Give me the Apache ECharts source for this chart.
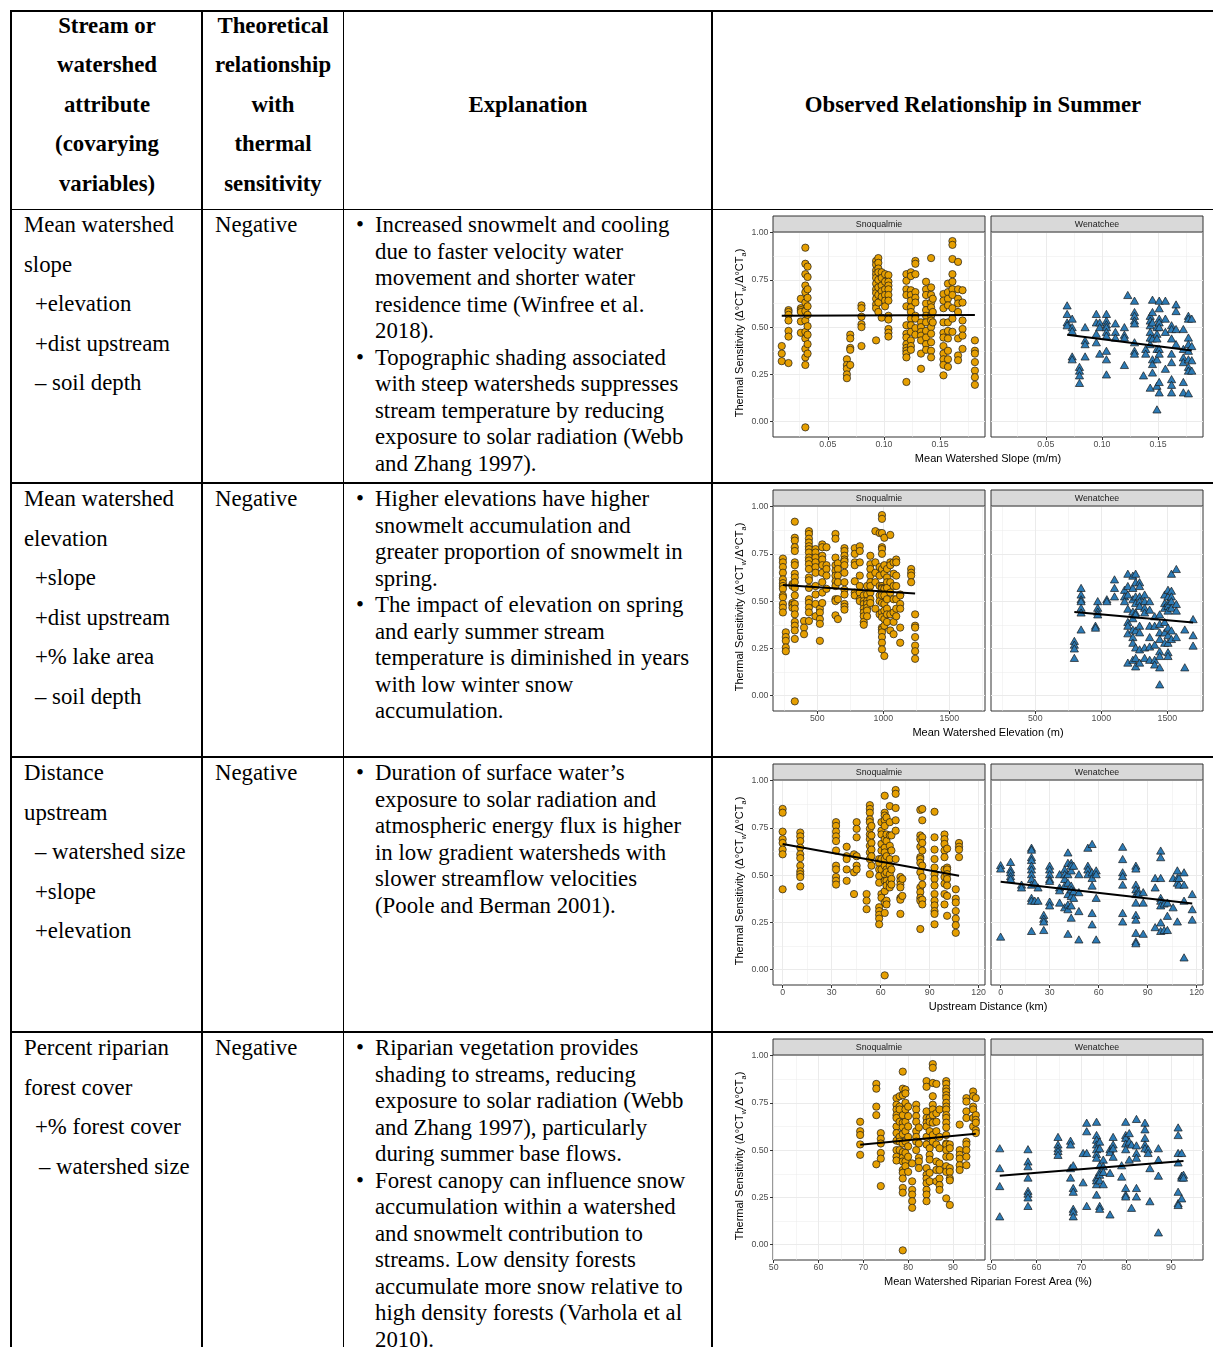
<!DOCTYPE html>
<html>
<head>
<meta charset="utf-8">
<title>Thermal sensitivity and watershed attributes</title>
<script src="https://cdn.jsdelivr.net/npm/echarts@6.0.0/dist/echarts.min.js"></script>
<style>
  html, body { margin: 0; padding: 0; background: #fff; }
  body {
    width: 1213px; height: 1347px; position: relative; overflow: hidden;
    font-family: 'Liberation Serif', 'Times New Roman', serif;
    font-size: 22.8px; color: #000;
  }
  .hl { position: absolute; height: 1.6px; background: #000; }
  .vl { position: absolute; width: 1.6px; background: #000; }
  .cell { position: absolute; white-space: nowrap; line-height: 26.5px; }
  .hd { font-weight: bold; text-align: center; }
  .hd > div { height: 39.5px; }
  .attr > div { height: 39.6px; }
  .attr .ind { padding-left: 11px; }
  .attr .ind2 { padding-left: 15px; }
  .expl { left: 375px; }
  .expl .b { position: relative; }
  .expl .b::before { content: '\2022'; position: absolute; left: -19px; }
  .chart { position: absolute; left: 713px; width: 500px; height: 273px; }
</style>
</head>
<body>

<!-- table rules -->
<div class="hl" style="left:11px;width:1202px;top:10.2px"></div>
<div class="hl" style="left:11px;width:1202px;top:208.6px"></div>
<div class="hl" style="left:11px;width:1202px;top:482.4px"></div>
<div class="hl" style="left:11px;width:1202px;top:756.4px"></div>
<div class="hl" style="left:11px;width:1202px;top:1031.4px"></div>
<div class="vl" style="left:10.4px;top:10.2px;height:1337px"></div>
<div class="vl" style="left:201.2px;top:10.2px;height:1337px"></div>
<div class="vl" style="left:342.8px;top:10.2px;height:1337px"></div>
<div class="vl" style="left:711.2px;top:10.2px;height:1337px"></div>

<!-- header -->
<div class="cell hd" style="left:12px;width:190px;top:12.75px">
  <div>Stream or</div><div>watershed</div><div>attribute</div><div>(covarying</div><div>variables)</div>
</div>
<div class="cell hd" style="left:202px;width:142px;top:12.75px">
  <div>Theoretical</div><div>relationship</div><div>with</div><div>thermal</div><div>sensitivity</div>
</div>
<div class="cell hd" style="left:344px;width:368px;top:91.75px">Explanation</div>
<div class="cell hd" style="left:712px;width:522px;top:91.75px">Observed Relationship in Summer</div>

<!-- row 1 -->
<div class="cell attr" style="left:24px;top:212px">
  <div>Mean watershed</div><div>slope</div><div class="ind">+elevation</div><div class="ind">+dist upstream</div><div class="ind">– soil depth</div>
</div>
<div class="cell" style="left:215px;top:212px">Negative</div>
<div class="cell expl" style="top:212px">
  <div class="b">Increased snowmelt and cooling</div>
  <div>due to faster velocity water</div>
  <div>movement and shorter water</div>
  <div>residence time (Winfree et al.</div>
  <div>2018).</div>
  <div class="b">Topographic shading associated</div>
  <div>with steep watersheds suppresses</div>
  <div>stream temperature by reducing</div>
  <div>exposure to solar radiation (Webb</div>
  <div>and Zhang 1997).</div>
</div>

<!-- row 2 -->
<div class="cell attr" style="left:24px;top:486px">
  <div>Mean watershed</div><div>elevation</div><div class="ind">+slope</div><div class="ind">+dist upstream</div><div class="ind">+% lake area</div><div class="ind">– soil depth</div>
</div>
<div class="cell" style="left:215px;top:486px">Negative</div>
<div class="cell expl" style="top:486px">
  <div class="b">Higher elevations have higher</div>
  <div>snowmelt accumulation and</div>
  <div>greater proportion of snowmelt in</div>
  <div>spring.</div>
  <div class="b">The impact of elevation on spring</div>
  <div>and early summer stream</div>
  <div>temperature is diminished in years</div>
  <div>with low winter snow</div>
  <div>accumulation.</div>
</div>

<!-- row 3 -->
<div class="cell attr" style="left:24px;top:760px">
  <div>Distance</div><div>upstream</div><div class="ind">– watershed size</div><div class="ind">+slope</div><div class="ind">+elevation</div>
</div>
<div class="cell" style="left:215px;top:760px">Negative</div>
<div class="cell expl" style="top:760px">
  <div class="b">Duration of surface water’s</div>
  <div>exposure to solar radiation and</div>
  <div>atmospheric energy flux is higher</div>
  <div>in low gradient watersheds with</div>
  <div>slower streamflow velocities</div>
  <div>(Poole and Berman 2001).</div>
</div>

<!-- row 4 -->
<div class="cell attr" style="left:24px;top:1035px">
  <div>Percent riparian</div><div>forest cover</div><div class="ind">+% forest cover</div><div class="ind2">– watershed size</div>
</div>
<div class="cell" style="left:215px;top:1035px">Negative</div>
<div class="cell expl" style="top:1035px">
  <div class="b">Riparian vegetation provides</div>
  <div>shading to streams, reducing</div>
  <div>exposure to solar radiation (Webb</div>
  <div>and Zhang 1997), particularly</div>
  <div>during summer base flows.</div>
  <div class="b">Forest canopy can influence snow</div>
  <div>accumulation within a watershed</div>
  <div>and snowmelt contribution to</div>
  <div>streams. Low density forests</div>
  <div>accumulate more snow relative to</div>
  <div>high density forests (Varhola et al</div>
  <div>2010).</div>
</div>

<div id="chartSlope" class="chart" style="top:210px"></div>
<div id="chartElev" class="chart" style="top:484px"></div>
<div id="chartDist" class="chart" style="top:758px"></div>
<div id="chartRip" class="chart" style="top:1033px"></div>

<script>
// Each site is one column: [attribute value, [thermal sensitivity for each summer]]
const basins = ['Snoqualmie', 'Wenatchee'];

// Mean watershed slope (m/m)
const slopeSno = [
  [0.009, [0.40, 0.36, 0.32]],
  [0.015, [0.59, 0.58, 0.565, 0.535, 0.48, 0.45, 0.31]],
  [0.026, [0.65, 0.60, 0.59, 0.58, 0.53, 0.47]],
  [0.030, [0.92, 0.835, 0.78, 0.72, 0.685, 0.63, 0.585, 0.535, 0.475, 0.44, 0.385, 0.34, 0.30, -0.03]],
  [0.032, [0.82, 0.765, 0.70, 0.655, 0.61, 0.565, 0.505, 0.46, 0.41, 0.36]],
  [0.067, [0.33, 0.30, 0.28, 0.25, 0.23]],
  [0.070, [0.46, 0.44, 0.39, 0.38, 0.30]],
  [0.080, [0.615, 0.60, 0.555, 0.515, 0.50, 0.40]],
  [0.093, [0.85, 0.83, 0.80, 0.78, 0.76, 0.73, 0.70, 0.68, 0.65, 0.62, 0.60, 0.43]],
  [0.095, [0.865, 0.84, 0.81, 0.79, 0.75, 0.71, 0.67, 0.63, 0.58]],
  [0.098, [0.79, 0.76, 0.72, 0.69, 0.66, 0.55]],
  [0.101, [0.78, 0.74, 0.70, 0.67, 0.64, 0.61]],
  [0.104, [0.775, 0.74, 0.72, 0.70, 0.67, 0.64, 0.56, 0.54, 0.49, 0.47, 0.45]],
  [0.120, [0.78, 0.745, 0.70, 0.67, 0.61, 0.51, 0.465, 0.445, 0.41, 0.39, 0.375, 0.36, 0.34, 0.21]],
  [0.124, [0.79, 0.77, 0.695, 0.67, 0.64, 0.605, 0.58, 0.545, 0.51, 0.475, 0.43, 0.40, 0.38]],
  [0.128, [0.85, 0.835, 0.78, 0.685, 0.655, 0.63, 0.56, 0.545, 0.495, 0.46]],
  [0.133, [0.525, 0.50, 0.475, 0.455, 0.43, 0.36, 0.28]],
  [0.1375, [0.74, 0.70, 0.67, 0.625, 0.59, 0.56, 0.525, 0.48, 0.445, 0.41, 0.38]],
  [0.142, [0.865, 0.71, 0.67, 0.63, 0.605, 0.56, 0.535, 0.50, 0.465, 0.42, 0.375, 0.34]],
  [0.1435, [0.65, 0.58, 0.525]],
  [0.153, [0.675, 0.64, 0.60, 0.525, 0.47, 0.445, 0.40, 0.36, 0.33, 0.30, 0.245]],
  [0.157, [0.73, 0.685, 0.65, 0.615, 0.525, 0.48, 0.44, 0.375, 0.33, 0.29]],
  [0.161, [0.955, 0.935, 0.86, 0.78, 0.74, 0.70, 0.67, 0.60, 0.545, 0.475]],
  [0.166, [0.845, 0.70, 0.65, 0.625, 0.58, 0.44, 0.35, 0.325]],
  [0.170, [0.695, 0.63, 0.535, 0.49, 0.455, 0.385]],
  [0.181, [0.43, 0.375, 0.36, 0.315, 0.27, 0.235, 0.195]]
];
const slopeWen = [
  [0.069, [0.615, 0.57, 0.525, 0.51]],
  [0.0735, [0.545, 0.50, 0.48, 0.345, 0.33]],
  [0.080, [0.29, 0.27, 0.245, 0.205]],
  [0.085, [0.50, 0.43, 0.41, 0.345]],
  [0.095, [0.57, 0.525, 0.465, 0.42]],
  [0.098, [0.525, 0.50, 0.36]],
  [0.104, [0.57, 0.535, 0.515, 0.50, 0.475, 0.455, 0.375, 0.33, 0.25]],
  [0.112, [0.52, 0.475, 0.445]],
  [0.120, [0.50, 0.46, 0.445, 0.30]],
  [0.123, [0.67]],
  [0.129, [0.64, 0.58, 0.56, 0.535, 0.52, 0.42, 0.375, 0.36]],
  [0.137, [0.245]],
  [0.139, [0.385, 0.36]],
  [0.143, [0.56, 0.535, 0.51, 0.475, 0.445, 0.41, 0.18]],
  [0.145, [0.645, 0.58, 0.525, 0.44, 0.33, 0.305, 0.26]],
  [0.149, [0.50, 0.465, 0.44, 0.385, 0.33, 0.19, 0.065]],
  [0.151, [0.64, 0.60, 0.545, 0.525, 0.50, 0.385, 0.36, 0.21, 0.155]],
  [0.1565, [0.64, 0.545, 0.475, 0.28]],
  [0.162, [0.51, 0.49, 0.44, 0.36, 0.315, 0.225, 0.195, 0.155]],
  [0.166, [0.62, 0.585, 0.49, 0.41]],
  [0.1725, [0.49, 0.385, 0.34, 0.315, 0.21, 0.155]],
  [0.177, [0.56, 0.545, 0.445, 0.41, 0.375, 0.33, 0.29, 0.27, 0.15]],
  [0.180, [0.545, 0.40, 0.325, 0.27]]
];
const slopeFitSno = [[0.009, 0.560], [0.181, 0.564]];
const slopeFitWen = [[0.069, 0.460], [0.180, 0.376]];

// Mean watershed elevation (m)
const elevSno = [
  [240, [0.725, 0.705, 0.68, 0.65, 0.615, 0.595, 0.58, 0.565, 0.53, 0.52, 0.485, 0.465, 0.44]],
  [262, [0.335, 0.31, 0.29, 0.255, 0.235]],
  [312, [0.59, 0.58, 0.49, 0.48, 0.465]],
  [330, [0.92, 0.835, 0.82, 0.785, 0.765, 0.705, 0.69, 0.645, 0.625, 0.60, 0.57, 0.53, 0.485, 0.46, 0.43, 0.39, 0.37, 0.345, 0.30, -0.03]],
  [400, [0.395, 0.36, 0.325]],
  [437, [0.87, 0.855, 0.83, 0.81, 0.79, 0.775, 0.757, 0.73, 0.715, 0.695, 0.67, 0.625, 0.61, 0.57, 0.51, 0.49, 0.465, 0.44, 0.395]],
  [487, [0.775, 0.757, 0.73, 0.705, 0.68, 0.65, 0.58, 0.535, 0.485, 0.42]],
  [520, [0.46, 0.44, 0.405, 0.38, 0.29]],
  [538, [0.80, 0.785, 0.74, 0.72, 0.69, 0.65, 0.60, 0.545, 0.49]],
  [570, [0.785, 0.69, 0.67, 0.635, 0.565]],
  [638, [0.855, 0.83, 0.73, 0.69, 0.66, 0.635, 0.605, 0.58, 0.51, 0.50, 0.425]],
  [656, [0.70, 0.67, 0.635, 0.60, 0.51, 0.405]],
  [706, [0.78, 0.765, 0.74, 0.72, 0.71, 0.69, 0.65, 0.60, 0.56, 0.535, 0.485, 0.47, 0.455]],
  [784, [0.78, 0.75, 0.705, 0.69, 0.605, 0.545, 0.53]],
  [822, [0.79, 0.765, 0.705, 0.635, 0.58, 0.545, 0.51, 0.50]],
  [852, [0.53, 0.50, 0.485, 0.46, 0.44, 0.42, 0.39, 0.375]],
  [877, [0.58, 0.535, 0.50, 0.485, 0.465, 0.45, 0.42]],
  [902, [0.74, 0.695, 0.67, 0.635, 0.60, 0.58, 0.545, 0.51, 0.49]],
  [940, [0.87, 0.705, 0.65, 0.60, 0.46]],
  [972, [0.86, 0.68, 0.635, 0.58, 0.53, 0.50, 0.43]],
  [990, [0.955, 0.935, 0.86, 0.785, 0.775, 0.75, 0.67, 0.58, 0.57, 0.565, 0.545, 0.53, 0.49, 0.44, 0.415, 0.36, 0.35, 0.335, 0.31, 0.28, 0.245]],
  [1008, [0.835, 0.69, 0.645, 0.565, 0.53, 0.485, 0.45, 0.405, 0.37, 0.21]],
  [1028, [0.67, 0.625, 0.60, 0.57, 0.51, 0.46, 0.43, 0.39]],
  [1053, [0.85, 0.705, 0.69, 0.60, 0.545, 0.43, 0.345]],
  [1078, [0.705, 0.645, 0.58, 0.51, 0.44, 0.39, 0.325]],
  [1098, [0.72, 0.705, 0.635, 0.58, 0.51, 0.46, 0.42]],
  [1128, [0.535, 0.53, 0.485, 0.46, 0.36, 0.28]],
  [1211, [0.67, 0.65, 0.635, 0.60]],
  [1241, [0.43, 0.37, 0.36, 0.31, 0.265, 0.235, 0.195]]
];
const elevWen = [
  [796, [0.29, 0.27, 0.25, 0.20]],
  [847, [0.57, 0.535, 0.51, 0.50, 0.465, 0.44, 0.35]],
  [956, [0.37, 0.36]],
  [973, [0.50, 0.465, 0.445, 0.43]],
  [1042, [0.51, 0.50]],
  [1100, [0.615, 0.57, 0.525]],
  [1176, [0.56, 0.525, 0.50]],
  [1201, [0.645, 0.58, 0.535, 0.46, 0.39, 0.37, 0.33, 0.175]],
  [1239, [0.635, 0.57, 0.51, 0.445, 0.41, 0.35, 0.31, 0.28, 0.19]],
  [1260, [0.645, 0.60, 0.525, 0.49, 0.44, 0.43, 0.345, 0.255, 0.20, 0.155]],
  [1290, [0.60, 0.58, 0.525, 0.50, 0.475, 0.37, 0.335, 0.245, 0.175]],
  [1328, [0.535, 0.50, 0.465, 0.44, 0.255, 0.20]],
  [1366, [0.50, 0.455, 0.37, 0.31, 0.26, 0.19]],
  [1404, [0.42, 0.37, 0.27, 0.19, 0.165]],
  [1442, [0.43, 0.38, 0.335, 0.30, 0.235, 0.21, 0.15, 0.06]],
  [1480, [0.535, 0.49, 0.465, 0.39, 0.335, 0.28]],
  [1505, [0.56, 0.525, 0.49, 0.475, 0.45, 0.36, 0.32, 0.28, 0.23, 0.21]],
  [1531, [0.645, 0.555, 0.525, 0.50, 0.465, 0.345, 0.30]],
  [1568, [0.67, 0.485, 0.45, 0.31]],
  [1632, [0.35, 0.15]],
  [1695, [0.405, 0.32, 0.265]]
];
const elevFitSno = [[240, 0.585], [1241, 0.540]];
const elevFitWen = [[796, 0.443], [1695, 0.387]];

// Upstream distance (km)
const distSno = [
  [0, [0.85, 0.83, 0.73, 0.69, 0.67, 0.635, 0.61, 0.425]],
  [10.8, [0.725, 0.705, 0.68, 0.645, 0.61, 0.59, 0.55, 0.52, 0.505, 0.49, 0.44]],
  [32.7, [0.78, 0.76, 0.73, 0.705, 0.68, 0.63, 0.55, 0.53, 0.49, 0.47, 0.45]],
  [39.2, [0.65, 0.60, 0.585, 0.53, 0.47]],
  [43.7, [0.61, 0.515, 0.40]],
  [45.3, [0.78, 0.745, 0.70, 0.60, 0.55, 0.53]],
  [51.4, [0.40, 0.365, 0.32]],
  [53.4, [0.87, 0.85, 0.83, 0.795, 0.78, 0.745, 0.715, 0.69, 0.655, 0.62, 0.585, 0.505]],
  [54.4, [0.76, 0.71, 0.67, 0.635, 0.60, 0.55]],
  [59.1, [0.585, 0.565, 0.53, 0.495, 0.46, 0.33, 0.31, 0.29, 0.27, 0.24]],
  [60.5, [0.78, 0.735, 0.715, 0.665, 0.63, 0.585, 0.53, 0.40, 0.38]],
  [62.5, [0.92, 0.83, 0.815, 0.79, 0.76, 0.69, 0.645, 0.62, 0.585, 0.55, 0.505, 0.47, 0.415, 0.355, 0.30, -0.03]],
  [63.6, [0.805, 0.715, 0.68, 0.60, 0.53, 0.515, 0.47, 0.445, 0.365, 0.345]],
  [65.6, [0.865, 0.78, 0.71, 0.655, 0.585, 0.55, 0.505, 0.46, 0.435]],
  [66.6, [0.71, 0.63, 0.53, 0.48, 0.45]],
  [69.2, [0.95, 0.93, 0.855, 0.79, 0.735, 0.585]],
  [72.1, [0.49, 0.47, 0.45, 0.435, 0.38, 0.37, 0.295]],
  [73.3, [0.48, 0.39]],
  [84.3, [0.845, 0.71, 0.69, 0.65, 0.595, 0.585, 0.565, 0.515, 0.435, 0.41, 0.38, 0.365, 0.215]],
  [85.5, [0.85, 0.79, 0.70, 0.67, 0.63, 0.55, 0.49, 0.45, 0.37, 0.345]],
  [93.0, [0.835, 0.70, 0.635, 0.585, 0.54, 0.505, 0.48, 0.445, 0.40, 0.365, 0.34, 0.31, 0.295, 0.24]],
  [99.1, [0.715, 0.69, 0.665, 0.63, 0.595, 0.53, 0.49, 0.455, 0.40, 0.345]],
  [100.7, [0.64, 0.54, 0.53, 0.505, 0.48, 0.445, 0.39, 0.285]],
  [106.0, [0.425, 0.375, 0.355, 0.31, 0.27, 0.235, 0.195]],
  [108.0, [0.67, 0.65, 0.635, 0.595]]
];
const distWen = [
  [0, [0.553, 0.535, 0.175]],
  [6.1, [0.57, 0.53, 0.515, 0.495, 0.48]],
  [12.8, [0.45, 0.435]],
  [18.9, [0.645, 0.635, 0.595, 0.58, 0.55, 0.53, 0.505, 0.48, 0.45, 0.38, 0.365, 0.205]],
  [20.9, [0.46, 0.365]],
  [22.9, [0.435, 0.365]],
  [26.4, [0.29, 0.27, 0.255, 0.21]],
  [30.0, [0.55, 0.53, 0.505, 0.48, 0.47, 0.36, 0.34]],
  [36.1, [0.505, 0.435, 0.42, 0.355]],
  [39.2, [0.53, 0.505, 0.48, 0.445, 0.33]],
  [41.2, [0.62, 0.565, 0.505, 0.46, 0.40, 0.345, 0.32, 0.19]],
  [43.2, [0.565, 0.55, 0.525, 0.445, 0.425, 0.39, 0.34, 0.275]],
  [44.7, [0.55, 0.415, 0.38]],
  [47.9, [0.505, 0.41, 0.31, 0.16]],
  [53.4, [0.645, 0.55, 0.53, 0.505]],
  [56.0, [0.665, 0.515, 0.485, 0.445, 0.30, 0.24]],
  [58.5, [0.525, 0.505, 0.38, 0.16]],
  [74.7, [0.65, 0.585, 0.515, 0.495, 0.45, 0.30, 0.255]],
  [82.8, [0.55, 0.535, 0.45, 0.425, 0.40, 0.355, 0.29, 0.265, 0.195, 0.15, 0.14]],
  [84.4, [0.415, 0.40]],
  [87.3, [0.41, 0.355, 0.19]],
  [94.6, [0.485, 0.435, 0.225]],
  [98.0, [0.63, 0.595, 0.485, 0.38, 0.365, 0.34, 0.25, 0.205]],
  [100.1, [0.35, 0.21]],
  [102.1, [0.355, 0.285, 0.21]],
  [105.6, [0.485, 0.33]],
  [108.2, [0.525, 0.485, 0.46, 0.255]],
  [109.2, [0.485, 0.45]],
  [112.3, [0.515, 0.45, 0.365, 0.065]],
  [117.3, [0.40, 0.32, 0.265]]
];
const distFitSno = [[0, 0.665], [108, 0.497]];
const distFitWen = [[0, 0.465], [117.3, 0.350]];

// Mean watershed riparian forest area (%)
const ripSno = [
  [69.3, [0.65, 0.60, 0.58, 0.53, 0.475]],
  [72.9, [0.85, 0.825, 0.73, 0.685, 0.425]],
  [73.9, [0.59, 0.56, 0.535, 0.485, 0.455, 0.31]],
  [77.4, [0.775, 0.74, 0.715, 0.685, 0.67, 0.625, 0.59, 0.55, 0.50, 0.465, 0.445]],
  [78.1, [0.785, 0.73, 0.715, 0.65, 0.57, 0.545, 0.50]],
  [78.8, [0.915, 0.825, 0.79, 0.685, 0.645, 0.62, 0.585, 0.535, 0.49, 0.46, 0.44, 0.395, 0.38, 0.35, 0.30, 0.275, -0.03]],
  [79.4, [0.82, 0.80, 0.75, 0.715, 0.65, 0.60, 0.545, 0.485, 0.44, 0.415]],
  [80.0, [0.73, 0.68, 0.625, 0.57, 0.52, 0.465, 0.385]],
  [80.9, [0.43, 0.335, 0.29, 0.265, 0.23, 0.195]],
  [81.8, [0.74, 0.715, 0.68, 0.65, 0.60, 0.57, 0.545, 0.50]],
  [82.4, [0.62, 0.535, 0.46, 0.44, 0.405]],
  [84.1, [0.865, 0.835, 0.705, 0.67, 0.645, 0.625, 0.57, 0.53, 0.405, 0.37, 0.35, 0.325, 0.29, 0.265, 0.23]],
  [84.8, [0.67, 0.65, 0.60, 0.51, 0.475, 0.45, 0.38, 0.335]],
  [85.5, [0.955, 0.935, 0.855, 0.785, 0.74, 0.715, 0.685, 0.645, 0.58, 0.545]],
  [86.3, [0.85, 0.695, 0.65, 0.60, 0.53, 0.44, 0.395, 0.335]],
  [87.0, [0.715, 0.57, 0.51, 0.43, 0.395, 0.35, 0.315, 0.29]],
  [88.5, [0.865, 0.85, 0.825, 0.81, 0.79, 0.775, 0.75, 0.73, 0.715, 0.685, 0.67, 0.645, 0.62, 0.58, 0.535, 0.53, 0.50, 0.465, 0.415, 0.385, 0.245]],
  [89.3, [0.53, 0.51, 0.465, 0.405, 0.385, 0.35, 0.34, 0.21]],
  [91.5, [0.635, 0.50, 0.475, 0.455, 0.42, 0.395]],
  [93.0, [0.775, 0.757, 0.705, 0.67, 0.545, 0.53, 0.50, 0.465, 0.42]],
  [94.5, [0.81, 0.785, 0.73, 0.715, 0.67, 0.625]],
  [95.1, [0.775, 0.685, 0.66, 0.645, 0.605, 0.59]]
];
const ripWen = [
  [51.8, [0.51, 0.405, 0.31, 0.15]],
  [58.1, [0.505, 0.44, 0.415, 0.355, 0.285, 0.27, 0.25, 0.205]],
  [64.8, [0.57, 0.53, 0.51, 0.495, 0.475]],
  [67.6, [0.55, 0.53, 0.405, 0.355]],
  [68.2, [0.42, 0.30, 0.28, 0.19, 0.175, 0.15]],
  [70.4, [0.485, 0.33]],
  [71.2, [0.645, 0.60, 0.485, 0.205]],
  [73.4, [0.65, 0.58, 0.555, 0.53, 0.505, 0.48, 0.46, 0.355, 0.34, 0.32, 0.265]],
  [74.1, [0.545, 0.51, 0.42, 0.385, 0.37, 0.34, 0.205, 0.19]],
  [74.9, [0.45, 0.415, 0.385, 0.32]],
  [76.4, [0.505, 0.49, 0.38, 0.16]],
  [77.1, [0.57, 0.53, 0.51, 0.465]],
  [79.0, [0.42, 0.36]],
  [79.9, [0.65, 0.58, 0.565, 0.535, 0.505, 0.30, 0.265, 0.255]],
  [80.7, [0.59, 0.545, 0.45]],
  [81.2, [0.53, 0.195]],
  [82.3, [0.665, 0.525, 0.485, 0.46, 0.30, 0.255]],
  [84.2, [0.645, 0.61, 0.565, 0.53, 0.51]],
  [84.9, [0.505, 0.485]],
  [85.3, [0.405, 0.23]],
  [87.2, [0.51, 0.45, 0.365, 0.065]],
  [91.6, [0.62, 0.58, 0.485, 0.435, 0.28, 0.22, 0.21]],
  [92.4, [0.485, 0.365, 0.355, 0.245]],
  [92.8, [0.37, 0.355]]
];
const ripFitSno = [[69.3, 0.528], [95.1, 0.586]];
const ripFitWen = [[51.8, 0.364], [92.8, 0.443]];

// Axis breaks
const yTicks = [0, 0.25, 0.5, 0.75, 1.0];
const yMinorTicks = [0.125, 0.375, 0.625, 0.875];
const slopeTicks = [0.05, 0.10, 0.15];
const slopeMinorTicks = [0.025, 0.075, 0.125, 0.175];
const elevTicks = [500, 1000, 1500];
const elevMinorTicks = [250, 750, 1250, 1750];
const distTicks = [0, 30, 60, 90, 120];
const distMinorTicks = [15, 45, 75, 105];
const ripTicks = [50, 60, 70, 80, 90];
const ripMinorTicks = [55, 65, 75, 85, 95];

const SANS = "'Liberation Sans', Arial, Helvetica, sans-serif";
const GRID_MAJOR = '#EBEBEB';
const INK = '#333333';

function flatten(cols) {
  const pts = [];
  cols.forEach(([x, ys]) => ys.forEach(y => pts.push([x, y])));
  return pts;
}

// panel geometry inside each row's canvas
const PANELS = [
  { left: 60, top: 22, width: 212, height: 205 },
  { left: 278, top: 22, width: 212, height: 205 }
];
const STRIP_TOP = 6;

function buildOption(cfg) {
  const xAxis = [], yAxis = [], grid = [];
  PANELS.forEach((p, i) => {
    grid.push({ left: p.left, top: p.top, width: p.width, height: p.height,
      show: true, backgroundColor: '#fff', borderColor: INK, borderWidth: 1, containLabel: false });
    // major x breaks with labels
    xAxis.push({ type: 'value', gridIndex: i, position: 'bottom', min: cfg.xMin, max: cfg.xMax,
      axisLine: { show: false, onZero: false },
      axisTick: { show: true, length: 3, lineStyle: { color: INK, width: 1 }, customValues: cfg.ticks },
      axisLabel: { show: true, margin: 3, color: '#4D4D4D', fontSize: 8.8, fontFamily: SANS,
        customValues: cfg.ticks, formatter: v => cfg.fmt(v) },
      splitLine: { show: true, lineStyle: { color: GRID_MAJOR, width: 1 } } });
    // minor x breaks (grid only)
    xAxis.push({ type: 'value', gridIndex: i, position: 'top', min: cfg.xMin, max: cfg.xMax,
      axisLine: { show: false, onZero: false },
      axisTick: { show: false, customValues: cfg.minor },
      axisLabel: { show: false },
      splitLine: { show: true, lineStyle: { color: GRID_MAJOR, width: 0.5 } } });
    yAxis.push({ type: 'value', gridIndex: i, position: 'left', min: -0.081, max: 1.003,
      axisLine: { show: false, onZero: false },
      axisTick: { show: i === 0, length: 3, lineStyle: { color: INK, width: 1 }, customValues: yTicks },
      axisLabel: { show: i === 0, margin: 4.5, color: '#4D4D4D', fontSize: 8.8, fontFamily: SANS,
        customValues: yTicks, formatter: v => v.toFixed(2) },
      splitLine: { show: true, lineStyle: { color: GRID_MAJOR, width: 1 } } });
    yAxis.push({ type: 'value', gridIndex: i, position: 'right', min: -0.081, max: 1.003,
      axisLine: { show: false, onZero: false },
      axisTick: { show: false, customValues: yMinorTicks },
      axisLabel: { show: false },
      splitLine: { show: true, lineStyle: { color: GRID_MAJOR, width: 0.5 } } });
  });

  const graphic = [];
  PANELS.forEach((p, i) => {
    graphic.push({ type: 'rect', z: 10,
      shape: { x: p.left, y: STRIP_TOP, width: p.width, height: p.top - STRIP_TOP },
      style: { fill: '#D9D9D9', stroke: INK, lineWidth: 1 } });
    graphic.push({ type: 'text', z: 11, x: p.left + p.width / 2, y: (STRIP_TOP + p.top) / 2 + 0.5,
      style: { text: basins[i], fill: '#1A1A1A', fontSize: 8.8, fontFamily: SANS,
        align: 'center', verticalAlign: 'middle' } });
  });
  graphic.push({ type: 'text', z: 11, x: 27, y: 123, rotation: Math.PI / 2,
    style: {
      text: '{n|Thermal Sensitivity (Δ°CT}{s|w}{n|/Δ°CT}{s|a}{n|)}',
      align: 'center', verticalAlign: 'middle',
      rich: {
        n: { fontSize: 11, fontFamily: SANS, fill: '#000', lineHeight: 14 },
        s: { fontSize: 7.4, fontFamily: SANS, fill: '#000', lineHeight: 8, verticalAlign: 'bottom' }
      }
    } });
  graphic.push({ type: 'text', z: 11, x: (PANELS[0].left + PANELS[1].left + PANELS[1].width) / 2, y: 249,
    style: { text: cfg.title, fill: '#000', fontSize: 11, fontFamily: SANS,
      align: 'center', verticalAlign: 'middle' } });

  const series = [
    { type: 'scatter', name: basins[0], xAxisIndex: 0, yAxisIndex: 0, data: flatten(cfg.sno),
      symbol: 'circle', symbolSize: 7.3, z: 3,
      itemStyle: { color: '#E69F00', borderColor: '#1A1A1A', borderWidth: 0.7, opacity: 1 } },
    { type: 'line', xAxisIndex: 0, yAxisIndex: 0, data: cfg.fitSno, symbol: 'none', z: 4, silent: true,
      lineStyle: { color: '#000', width: 2 } },
    { type: 'scatter', name: basins[1], xAxisIndex: 2, yAxisIndex: 2, data: flatten(cfg.wen),
      symbol: 'triangle', symbolSize: [8.2, 7.2], z: 3,
      itemStyle: { color: '#2C7BB6', borderColor: '#1A1A1A', borderWidth: 0.7, opacity: 1 } },
    { type: 'line', xAxisIndex: 2, yAxisIndex: 2, data: cfg.fitWen, symbol: 'none', z: 4, silent: true,
      lineStyle: { color: '#000', width: 2 } }
  ];

  return { animation: false, backgroundColor: 'transparent', grid, xAxis, yAxis, series, graphic };
}

const rowCharts = [
  { id: 'chartSlope', title: 'Mean Watershed Slope (m/m)', xMin: 0.0012, xMax: 0.190,
    ticks: slopeTicks, minor: slopeMinorTicks, fmt: v => v.toFixed(2),
    sno: slopeSno, wen: slopeWen, fitSno: slopeFitSno, fitWen: slopeFitWen },
  { id: 'chartElev', title: 'Mean Watershed Elevation (m)', xMin: 165, xMax: 1770,
    ticks: elevTicks, minor: elevMinorTicks, fmt: v => String(v),
    sno: elevSno, wen: elevWen, fitSno: elevFitSno, fitWen: elevFitWen },
  { id: 'chartDist', title: 'Upstream Distance (km)', xMin: -5.9, xMax: 123.9,
    ticks: distTicks, minor: distMinorTicks, fmt: v => String(v),
    sno: distSno, wen: distWen, fitSno: distFitSno, fitWen: distFitWen },
  { id: 'chartRip', title: 'Mean Watershed Riparian Forest Area (%)', xMin: 49.85, xMax: 97.15,
    ticks: ripTicks, minor: ripMinorTicks, fmt: v => String(v),
    sno: ripSno, wen: ripWen, fitSno: ripFitSno, fitWen: ripFitWen }
];

rowCharts.forEach(cfg => {
  const chart = echarts.init(document.getElementById(cfg.id), null, { renderer: 'canvas' });
  chart.setOption(buildOption(cfg));
});
</script>
</body>
</html>
